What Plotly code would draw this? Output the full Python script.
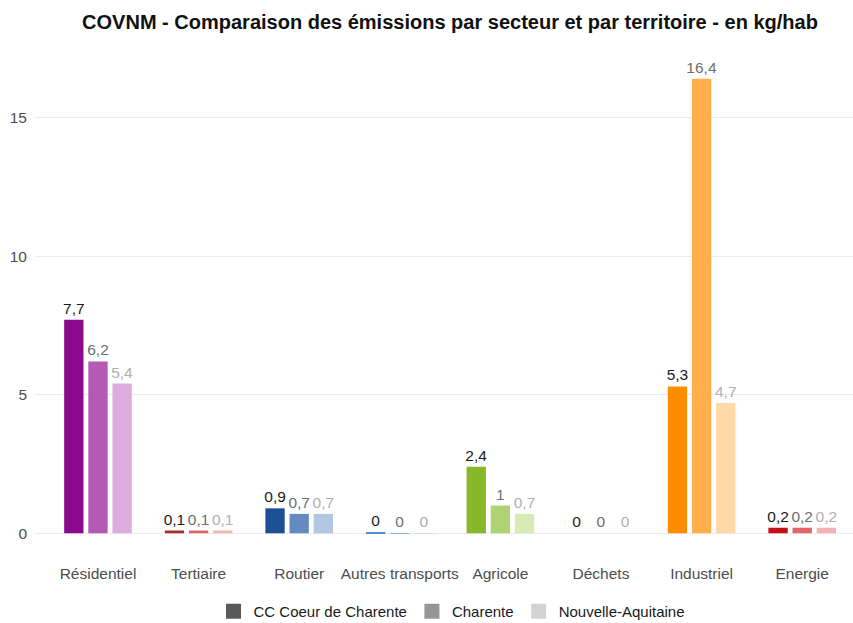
import plotly.graph_objects as go

# Secteurs et émissions de COVNM (kg/hab) par territoire
secteurs = ["Résidentiel", "Tertiaire", "Routier", "Autres transports",
            "Agricole", "Déchets", "Industriel", "Energie"]
territoires = ["CC Coeur de Charente", "Charente", "Nouvelle-Aquitaine"]
cc_coeur = [7.7, 0.1, 0.9, 0.04, 2.4, 0.0, 5.3, 0.2]
charente = [6.2, 0.1, 0.7, 0.01, 1.0, 0.0, 16.4, 0.2]
nouvelle_aquitaine = [5.4, 0.1, 0.7, 0.01, 0.7, 0.0, 4.7, 0.2]
y_ticks = [0, 5, 10, 15]

# Palette par secteur : foncé / moyen / clair
palette = {
    "Résidentiel": ["#8B0A8B", "#B45AB4", "#DDAEDD"],
    "Tertiaire": ["#A3302C", "#D86A6A", "#F0B8B8"],
    "Routier": ["#1D4F97", "#638BC0", "#B3C7E2"],
    "Autres transports": ["#4A90D0", "#8DB8E0", "#C8DDF0"],
    "Agricole": ["#86B82A", "#AED274", "#D8EAB6"],
    "Déchets": ["#7F7F7F", "#A6A6A6", "#D0D0D0"],
    "Industriel": ["#FF8C00", "#FFB04C", "#FFD9A8"],
    "Energie": ["#C3101C", "#E0646E", "#F2B2B8"],
}
text_colors = ["#1a1a1a", "#6e6e6e", "#b0b0b0"]
legend_colors = ["#595959", "#969696", "#d3d3d3"]

series = [cc_coeur, charente, nouvelle_aquitaine]
FONT = "Liberation Sans, Arial"

fig = go.Figure()
for i, (name, vals) in enumerate(zip(territoires, series)):
    fig.add_trace(go.Bar(
        x=secteurs, y=vals, name=name, showlegend=False,
        marker=dict(color=[palette[s][i] for s in secteurs], line=dict(width=0)),
        texttemplate="%{y:.1~f}", textposition="outside",
        textfont=dict(size=15.5, color=text_colors[i], family=FONT),
        constraintext="none", cliponaxis=False,
        hovertemplate="%{x}: %{y}<extra>" + name + "</extra>",
    ))

# Légende en niveaux de gris (marqueurs carrés, sans données)
for name, col in zip(territoires, legend_colors):
    fig.add_trace(go.Scatter(x=[None], y=[None], name=name, mode="markers",
                             marker=dict(color=col, symbol="square", size=15),
                             showlegend=True, hoverinfo="skip"))

fig.update_layout(
    width=853, height=623,
    margin=dict(l=35, r=0, t=56, b=67, autoexpand=False),
    paper_bgcolor="white", plot_bgcolor="white",
    barmode="group", bargap=0.28, bargroupgap=0.2,
    separators=", ",
    font=dict(family=FONT, color="#4d4d4d", size=15),
    title=dict(
        text="<b>COVNM - Comparaison des émissions par secteur et par territoire - en kg/hab</b>",
        x=450 / 853, xref="container", xanchor="center",
        y=1 - 22 / 623, yref="container", yanchor="middle",
        font=dict(size=20, color="#111111", family=FONT),
    ),
    xaxis=dict(range=[-0.626, 7.505], showgrid=False, zeroline=False,
               showline=False, ticks="", ticklabelstandoff=6, tickangle=0,
               tickfont=dict(size=15.5, color="#4d4d4d")),
    yaxis=dict(range=[-0.82, 17.22], tickvals=y_ticks, ticktext=[str(v) for v in y_ticks],
               showgrid=True, gridcolor="#ebebeb", gridwidth=1,
               zeroline=False, showline=False, ticks="", ticklabelstandoff=7,
               tickfont=dict(size=15.5, color="#4d4d4d")),
    legend=dict(orientation="h", x=(452 - 35) / 818, xref="paper", xanchor="center",
                y=-0.078, yanchor="top", font=dict(size=15, color="#1a1a1a"),
                tracegroupgap=0),
)

fig.write_html("out.html")
